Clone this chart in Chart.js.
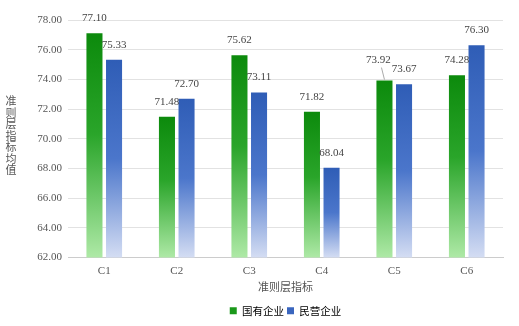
<!DOCTYPE html>
<html>
<head>
<meta charset="utf-8">
<script src="https://cdn.jsdelivr.net/npm/chart.js@4"></script>
<style>
html,body{margin:0;padding:0;background:#fff}
#wrap{width:519px;height:326px;position:relative}
</style>
</head>
<body>
<div id="wrap"><canvas id="chart" width="519" height="326"></canvas></div>
<script>
// ----------------------------
// DATA
// ----------------------------

const categories = ["C1","C2","C3","C4","C5","C6"]
const stateOwned = [77.10, 71.48, 75.62, 71.82, 73.92, 74.28]
const privateOwned = [75.33, 72.70, 73.11, 68.04, 73.67, 76.30]
const seriesNames = ["国有企业","民营企业"]
const yTitle = "准则层指标均值"
const xTitle = "准则层指标"

const FONT = "'Liberation Serif','Noto Sans CJK SC',serif"
const CJK = "'Noto Sans CJK SC',sans-serif"

// gradient stops per series (top -> bottom)
const greenStops = [[0,"#0c8a0c"],[0.45,"#2aa52a"],[1,"#aee9a6"]]
const blueStops = [[0,"#2f5db6"],[0.5,"#4b76cb"],[1,"#d4ddf3"]]

function barGradient(stops){
  return function(context){
    const chart = context.chart
    const area = chart.chartArea
    if(!area || context.type !== "data") return stops[0][1]
    const y = chart.scales.y
    const top = y.getPixelForValue(context.raw)
    const g = chart.ctx.createLinearGradient(0, top, 0, area.bottom)
    stops.forEach(s=>g.addColorStop(s[0], s[1]))
    return g
  }
}

// ----------------------------
// VALUE LABELS
// ----------------------------

const valueLabels = {
  id:"valueLabels",
  afterDatasetsDraw(chart){
    const ctx = chart.ctx
    const m0 = chart.getDatasetMeta(0)
    const m1 = chart.getDatasetMeta(1)
    ctx.save()
    ctx.font = "11px " + FONT
    ctx.fillStyle = "#444"
    ctx.textAlign = "center"
    ctx.textBaseline = "middle"
    categories.forEach((c,i)=>{
      const bars = [m0.data[i], m1.data[i]]
      const vals = [stateOwned[i], privateOwned[i]]
      let pos = bars.map(b=>({x:b.x, y:b.y-15}))
      if(Math.abs(bars[0].y - bars[1].y) < 12){
        const hi = bars[0].y <= bars[1].y ? 0 : 1
        const b = bars[hi]
        pos[hi] = {x:b.x-6, y:b.y-20}
        ctx.strokeStyle = "#aaa"
        ctx.lineWidth = 1
        ctx.beginPath()
        ctx.moveTo(b.x-3, pos[hi].y+7)
        ctx.lineTo(b.x, b.y-1)
        ctx.stroke()
      }
      pos.forEach((p,k)=>ctx.fillText(vals[k].toFixed(2), p.x, p.y))
    })
    ctx.restore()
  }
}

// vertical (stacked, upright) y axis title
const verticalTitle = {
  id:"verticalTitle",
  afterDraw(chart){
    const ctx = chart.ctx
    const area = chart.chartArea
    const step = 11.5
    const chars = Array.from(yTitle)
    const mid = (area.top + area.bottom)/2 - 3
    const start = mid - step*(chars.length-1)/2
    ctx.save()
    ctx.setTransform(1,0,0,1,0,0)
    ctx.font = "11px " + CJK
    ctx.fillStyle = "#555"
    ctx.textAlign = "center"
    ctx.textBaseline = "middle"
    for(let i=0;i<chars.length;i++){
      ctx.fillText(chars[i], 11, start + i*step)
    }
    ctx.restore()
  }
}

// ----------------------------
// CHART
// ----------------------------

const ctx = document.getElementById("chart").getContext("2d")

new Chart(ctx,{
  type:"bar",
  data:{
    labels:categories,
    datasets:[
      {
        label:seriesNames[0],
        data:stateOwned,
        backgroundColor:barGradient(greenStops),
        categoryPercentage:0.54,
        barPercentage:0.82
      },
      {
        label:seriesNames[1],
        data:privateOwned,
        backgroundColor:barGradient(blueStops),
        categoryPercentage:0.54,
        barPercentage:0.82
      }
    ]
  },
  options:{
    responsive:false,
    animation:false,
    layout:{padding:{top:20,right:16,left:0,bottom:0}},
    plugins:{
      tooltip:{enabled:false},
      legend:{
        position:"bottom",
        fullSize:false,
        labels:{
          boxWidth:7,
          boxHeight:7,
          padding:3,
          color:"#555",
          font:{size:10.5,family:CJK},
          generateLabels(chart){
            return seriesNames.map((n,i)=>({
              text:n,
              fillStyle:i===0 ? "#1a981a" : "#3a66be",
              strokeStyle:"rgba(0,0,0,0)",
              lineWidth:0,
              datasetIndex:i
            }))
          }
        }
      }
    },
    scales:{
      x:{
        afterFit(scale){ scale.height = 45 },
        grid:{display:false,drawTicks:false},
        border:{color:"#cccccc"},
        ticks:{color:"#555",font:{size:11,family:FONT},padding:7},
        title:{display:true,text:xTitle,color:"#555",font:{size:11,family:CJK},padding:{top:0,bottom:9}}
      },
      y:{
        min:62,
        max:78,
        afterFit(scale){ scale.width = 68 },
        grid:{color:"#e2e2e2",drawTicks:false},
        border:{display:false},
        ticks:{
          stepSize:2,
          padding:6,
          color:"#555",
          font:{size:11,family:FONT},
          callback:v=>Number(v).toFixed(2)
        }
      }
    }
  },
  plugins:[valueLabels, verticalTitle]
})
</script>
</body>
</html>
